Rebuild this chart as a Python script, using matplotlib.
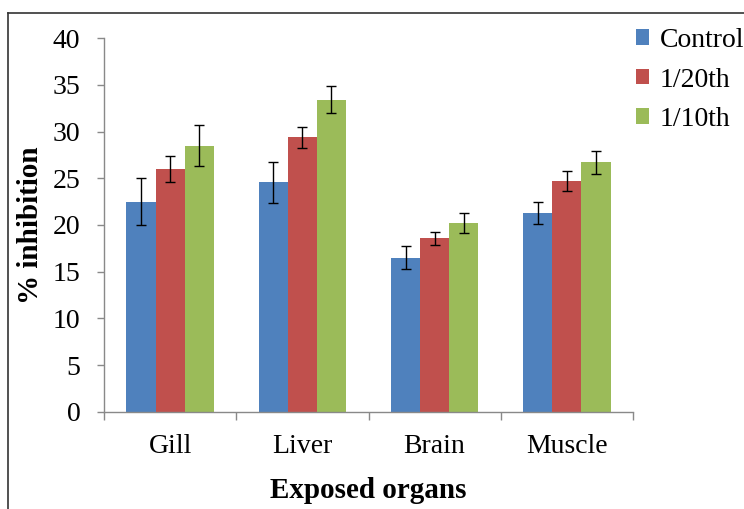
import numpy as np
import matplotlib
matplotlib.use("Agg")
import matplotlib.pyplot as plt
from matplotlib.lines import Line2D

# data
organs = ["Gill", "Liver", "Brain", "Muscle"]
series = ["Control", "1/20th", "1/10th"]
control = [22.5, 24.6, 16.5, 21.3]
dose_20 = [26.0, 29.4, 18.6, 24.7]
dose_10 = [28.5, 33.4, 20.2, 26.7]
control_err = [2.5, 2.2, 1.2, 1.15]
dose_20_err = [1.35, 1.1, 0.7, 1.1]
dose_10_err = [2.2, 1.45, 1.1, 1.25]
yticks = [0, 5, 10, 15, 20, 25, 30, 35, 40]

colors = ["#4F81BD", "#C0504D", "#9BBB59"]
plt.rcParams['font.family'] = ['Liberation Serif', 'DejaVu Serif']

W, H = 744, 509
fig = plt.figure(figsize=(W / 100, H / 100), dpi=100)
ax = fig.add_axes([104 / W, 1 - 411.7 / H, (633 - 104) / W, (411.7 - 38.3) / H])

x = np.arange(len(organs))
width = 0.22
values = [control, dose_20, dose_10]
errors = [control_err, dose_20_err, dose_10_err]
for k in range(3):
    ax.bar(x + (k - 1) * width, values[k], width, color=colors[k],
           label=series[k], zorder=2)
    ax.errorbar(x + (k - 1) * width, values[k], yerr=errors[k], fmt='none',
                ecolor='black', elinewidth=1, capsize=3.6, capthick=1, zorder=3)

ax.set_xlim(-0.5, 3.5)
ax.set_ylim(0, 40)
ax.set_yticks(yticks)
ax.tick_params(axis='y', direction='out', length=5, width=1, color='#898989',
               labelsize=20, pad=12)
ax.set_xticks(np.arange(-0.5, 4.0, 1.0))
ax.set_xticklabels([])
ax.tick_params(axis='x', which='major', direction='out', length=6, width=1,
               color='#898989')
ax.set_xticks(x, minor=True)
ax.set_xticklabels(organs, minor=True)
ax.tick_params(axis='x', which='minor', length=0, labelsize=20, pad=16)

for s in ['top', 'right']:
    ax.spines[s].set_visible(False)
for s in ['left', 'bottom']:
    ax.spines[s].set_color('#898989')
    ax.spines[s].set_linewidth(1)

ax.set_ylabel("% inhibition", fontsize=21, fontweight='bold', labelpad=6)
ax.set_xlabel("Exposed organs", fontsize=21, fontweight='bold', labelpad=13)

leg = fig.legend(loc='upper left', bbox_to_anchor=(625 / W, 1 - 17 / H),
                 frameon=False, fontsize=20, handlelength=0.48, handleheight=0.48,
                 handletextpad=0.36, labelspacing=0.52, borderaxespad=0)

# outer frame (only left and top edges visible)
fig.add_artist(Line2D([8 / W, 8 / W], [0, 1 - 13 / H], color='#333333', lw=1.2,
                      transform=fig.transFigure))
fig.add_artist(Line2D([8 / W, 1], [1 - 13 / H, 1 - 13 / H], color='#333333', lw=1.2,
                      transform=fig.transFigure))

fig.savefig("out.png", dpi=100)
